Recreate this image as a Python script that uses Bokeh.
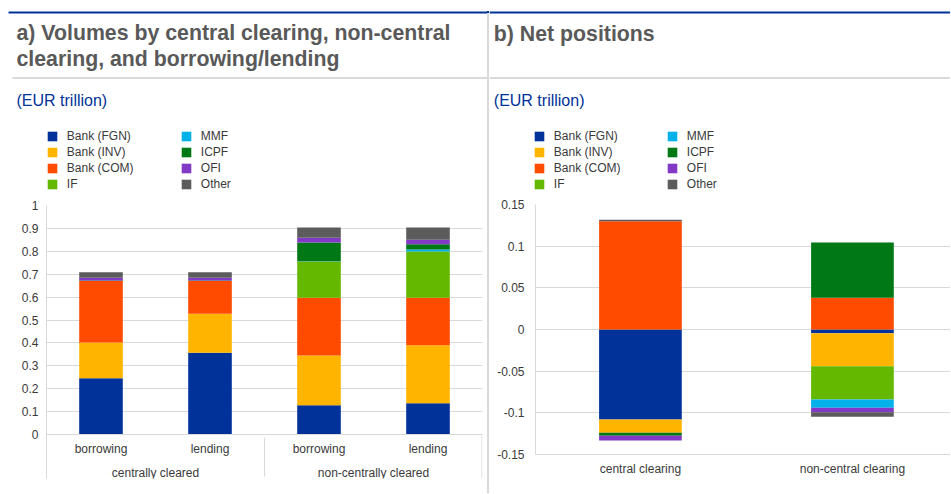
import numpy as np
from bokeh.plotting import figure
from bokeh.models import (FactorRange, Range1d, Legend, LegendItem, Label, BoxAnnotation,
                          FixedTicker, NumeralTickFormatter, Spacer)
from bokeh.layouts import row, column
from bokeh.embed import file_html
from bokeh.resources import INLINE

# ---------------- data ----------------
series = ["Bank (FGN)", "Bank (INV)", "Bank (COM)", "IF", "MMF", "ICPF", "OFI", "Other"]
colors = ["#003299", "#FFB400", "#FF4B00", "#65B800", "#00B1EA", "#007816", "#8139C6", "#5C5C5C"]

vol_groups = ["centrally cleared", "centrally cleared", "non-centrally cleared", "non-centrally cleared"]
vol_sides = ["borrowing", "lending", "borrowing", "lending"]
vol_fgn = [0.246, 0.357, 0.128, 0.137]
vol_inv = [0.156, 0.170, 0.217, 0.253]
vol_com = [0.268, 0.143, 0.252, 0.207]
vol_if = [0.000, 0.000, 0.158, 0.202]
vol_mmf = [0.000, 0.000, 0.002, 0.009]
vol_icpf = [0.002, 0.002, 0.081, 0.023]
vol_ofi = [0.012, 0.012, 0.021, 0.019]
vol_other = [0.025, 0.025, 0.045, 0.054]

net_categories = ["central clearing", "non-central clearing"]
net_fgn = [-0.108, -0.0044]
net_inv = [-0.016, -0.0396]
net_com = [0.130, 0.038]
net_if = [0.0, -0.040]
net_mmf = [0.0, -0.010]
net_icpf = [-0.0036, 0.0664]
net_ofi = [-0.0056, -0.0052]
net_other = [0.0016, -0.0056]

vol_ticks = [0, 0.1, 0.2, 0.3, 0.4, 0.5, 0.6, 0.7, 0.8, 0.9, 1.0]
net_ticks = [-0.15, -0.1, -0.05, 0, 0.05, 0.1, 0.15]

title_a = ["a) Volumes by central clearing, non-central", "clearing, and borrowing/lending"]
title_b = "b) Net positions"
unit_text = "(EUR trillion)"

FONT = "Liberation Sans"
GRID = "#d9d9d9"
TXT = "#3a3a3a"
BLUE = "#003299"
TITLE_C = "#595959"

HEAD_H = 195
CHART_H = 298
LEFT_W = 487
RIGHT_W = 461


def no_align(p):
    if "frame_align" in type(p).properties():
        p.frame_align = False


def stack(values_list):
    """Stack series: positives upward, negatives downward."""
    n = len(values_list[0])
    pos = np.zeros(n)
    neg = np.zeros(n)
    out = []
    for vals in values_list:
        v = np.array(vals, dtype=float)
        bottom = np.where(v >= 0, pos, neg + v)
        top = np.where(v >= 0, pos + v, neg)
        pos = np.where(v >= 0, pos + v, pos)
        neg = np.where(v < 0, neg + v, neg)
        out.append((list(bottom), list(top)))
    return out


def header(width):
    h = figure(width=width, height=HEAD_H, x_range=Range1d(0, 1), y_range=Range1d(0, 1),
               x_axis_type=None, y_axis_type=None, output_backend="svg",
               toolbar_location=None, min_border=0, outline_line_color=None)
    h.grid.visible = False
    no_align(h)
    return h


def sbox(p, left, right, bottom, top, color):
    # rectangle in screen pixels relative to the frame's bottom-left corner
    p.add_layout(BoxAnnotation(left=left, right=right, top=top, bottom=bottom,
                               left_units="screen", right_units="screen",
                               top_units="screen", bottom_units="screen",
                               fill_color=color, fill_alpha=1.0,
                               line_color=None, line_alpha=0))


def box(p, left, right, ytop, ybot, color):
    # pixel coordinates from the header's top-left corner
    sbox(p, left, right, HEAD_H - ybot, HEAD_H - ytop, color)


def label(p, x, ybase, text, size, color, style="normal"):
    p.add_layout(Label(x=x, y=HEAD_H - ybase, x_units="screen", y_units="screen", text=text,
                       text_font=FONT, text_font_size=size, text_font_style=style,
                       text_color=color, text_baseline="alphabetic", text_align="left"))


def legends(p, x1, x2, ytop):
    # legend swatch proxies (one NaN bar each, nothing visible in the plot)
    proxies = [p.vbar(x=[np.nan], top=[np.nan], width=1, fill_color=c, line_color=None)
               for c in colors]
    row_h, spacing = 14, 2
    leg_h = 4 * row_h + 3 * spacing
    for idxs, x in ((range(0, 4), x1), (range(4, 8), x2)):
        items = [LegendItem(label=series[i], renderers=[proxies[i]]) for i in idxs]
        lg = Legend(items=items, location=(x, HEAD_H - ytop - leg_h), orientation="vertical",
                    padding=0, margin=0, spacing=spacing,
                    glyph_width=12, glyph_height=12, label_height=12,
                    label_standoff=9, label_text_font=FONT, label_text_font_size="12px",
                    label_text_color=TXT, border_line_color=None,
                    background_fill_alpha=0)
        p.add_layout(lg)


def style_common(p):
    p.outline_line_color = None
    p.xgrid.grid_line_color = None
    p.ygrid.grid_line_color = GRID
    for ax in (p.xaxis[0], p.yaxis[0]):
        ax.axis_line_color = GRID
        ax.major_tick_line_color = None
        ax.minor_tick_line_color = None
        ax.major_tick_out = 0
        ax.major_tick_in = 0
        ax.minor_tick_out = 0
        ax.major_label_text_font = FONT
        ax.major_label_text_font_size = "12px"
        ax.major_label_text_color = TXT


# ---------------- left header ----------------
h1 = header(LEFT_W)
box(h1, 8, LEFT_W, 11, 13, BLUE)
box(h1, 12, LEFT_W, 76.5, 78.5, GRID)
label(h1, 16, 32.5, title_a[0], "21.3px", TITLE_C, "bold")
label(h1, 16, 58, title_a[1], "21.3px", TITLE_C, "bold")
label(h1, 16, 100, unit_text, "16px", BLUE)
legends(h1, 45.8, 179.8, 128.8)

# ---------------- left chart: volumes ----------------
# frame runs from the 1.0 line (y=205) down to the bottom of the category labels (y=478);
# the category axis is pinned at 0 inside the frame (y=434)
PLOT_PX = 229.0
EXT_PX = 44.0
factors = list(zip(vol_groups, vol_sides))
p1 = figure(x_range=FactorRange(*factors, group_padding=0, range_padding=0),
            y_range=Range1d(-EXT_PX / PLOT_PX, 1), width=LEFT_W, height=CHART_H,
            output_backend="svg", toolbar_location=None,
            min_border_left=46, min_border_right=5, min_border_top=10,
            min_border_bottom=CHART_H - 10 - int(PLOT_PX + EXT_PX))
no_align(p1)
vol_series = [vol_fgn, vol_inv, vol_com, vol_if, vol_mmf, vol_icpf, vol_ofi, vol_other]
for (bot, top), c in zip(stack(vol_series), colors):
    p1.vbar(x=factors, bottom=bot, top=top, width=0.4, fill_color=c, line_color=None)
style_common(p1)
p1.yaxis.ticker = FixedTicker(ticks=vol_ticks)
p1.yaxis.formatter = NumeralTickFormatter(format="0.[0]")
p1.yaxis.major_label_standoff = 8
xa = p1.xaxis[0]
xa.fixed_location = 0
xa.major_label_standoff = 7
xa.group_text_font = FONT
xa.group_text_font_size = "12px"
xa.group_text_font_style = "normal"
xa.group_text_color = TXT
xa.separator_line_color = GRID
xa.separator_line_width = 1
# right edge of the category axis
sbox(p1, 435, 436, 0, EXT_PX, GRID)

# ---------------- right header ----------------
h2 = header(RIGHT_W)
box(h2, 0, RIGHT_W, 11, 13, BLUE)
box(h2, 0, RIGHT_W, 76.5, 78.5, GRID)
label(h2, 4.3, 33, title_b, "21.3px", TITLE_C, "bold")
label(h2, 4.3, 100, unit_text, "16px", BLUE)
legends(h2, 43.8, 176.8, 128.8)

# ---------------- right chart: net positions ----------------
net_x = list(range(len(net_categories)))
frame_w = RIGHT_W - 46
p2 = figure(x_range=Range1d(-0.495, -0.495 + frame_w / 212.0), y_range=Range1d(-0.15, 0.15),
            width=RIGHT_W, height=CHART_H, output_backend="svg", toolbar_location=None,
            min_border_left=46, min_border_right=0, min_border_top=9,
            min_border_bottom=CHART_H - 9 - 250)
no_align(p2)
net_series = [net_fgn, net_inv, net_com, net_if, net_mmf, net_icpf, net_ofi, net_other]
for (bot, top), c in zip(stack(net_series), colors):
    p2.vbar(x=net_x, bottom=bot, top=top, width=0.39, fill_color=c, line_color=None)
style_common(p2)
p2.xaxis.ticker = FixedTicker(ticks=net_x)
p2.xaxis.major_label_overrides = {i: c for i, c in zip(net_x, net_categories)}
p2.xaxis.major_label_standoff = 7
p2.yaxis.ticker = FixedTicker(ticks=net_ticks)
p2.yaxis.formatter = NumeralTickFormatter(format="0.[00]")
p2.yaxis.major_label_standoff = 11

# ---------------- panel separator ----------------
sep = Spacer(width=2, height=HEAD_H + CHART_H,
             styles={"background": "linear-gradient(to bottom, rgba(0,0,0,0) 0px, rgba(0,0,0,0) 11px, "
                                   "#003299 11px, #003299 13px, #d9d9d9 13px, #d9d9d9 100%)"})

layout = row(column(h1, p1), sep, column(h2, p2))
open("out.html", "w").write(file_html(layout, INLINE))
